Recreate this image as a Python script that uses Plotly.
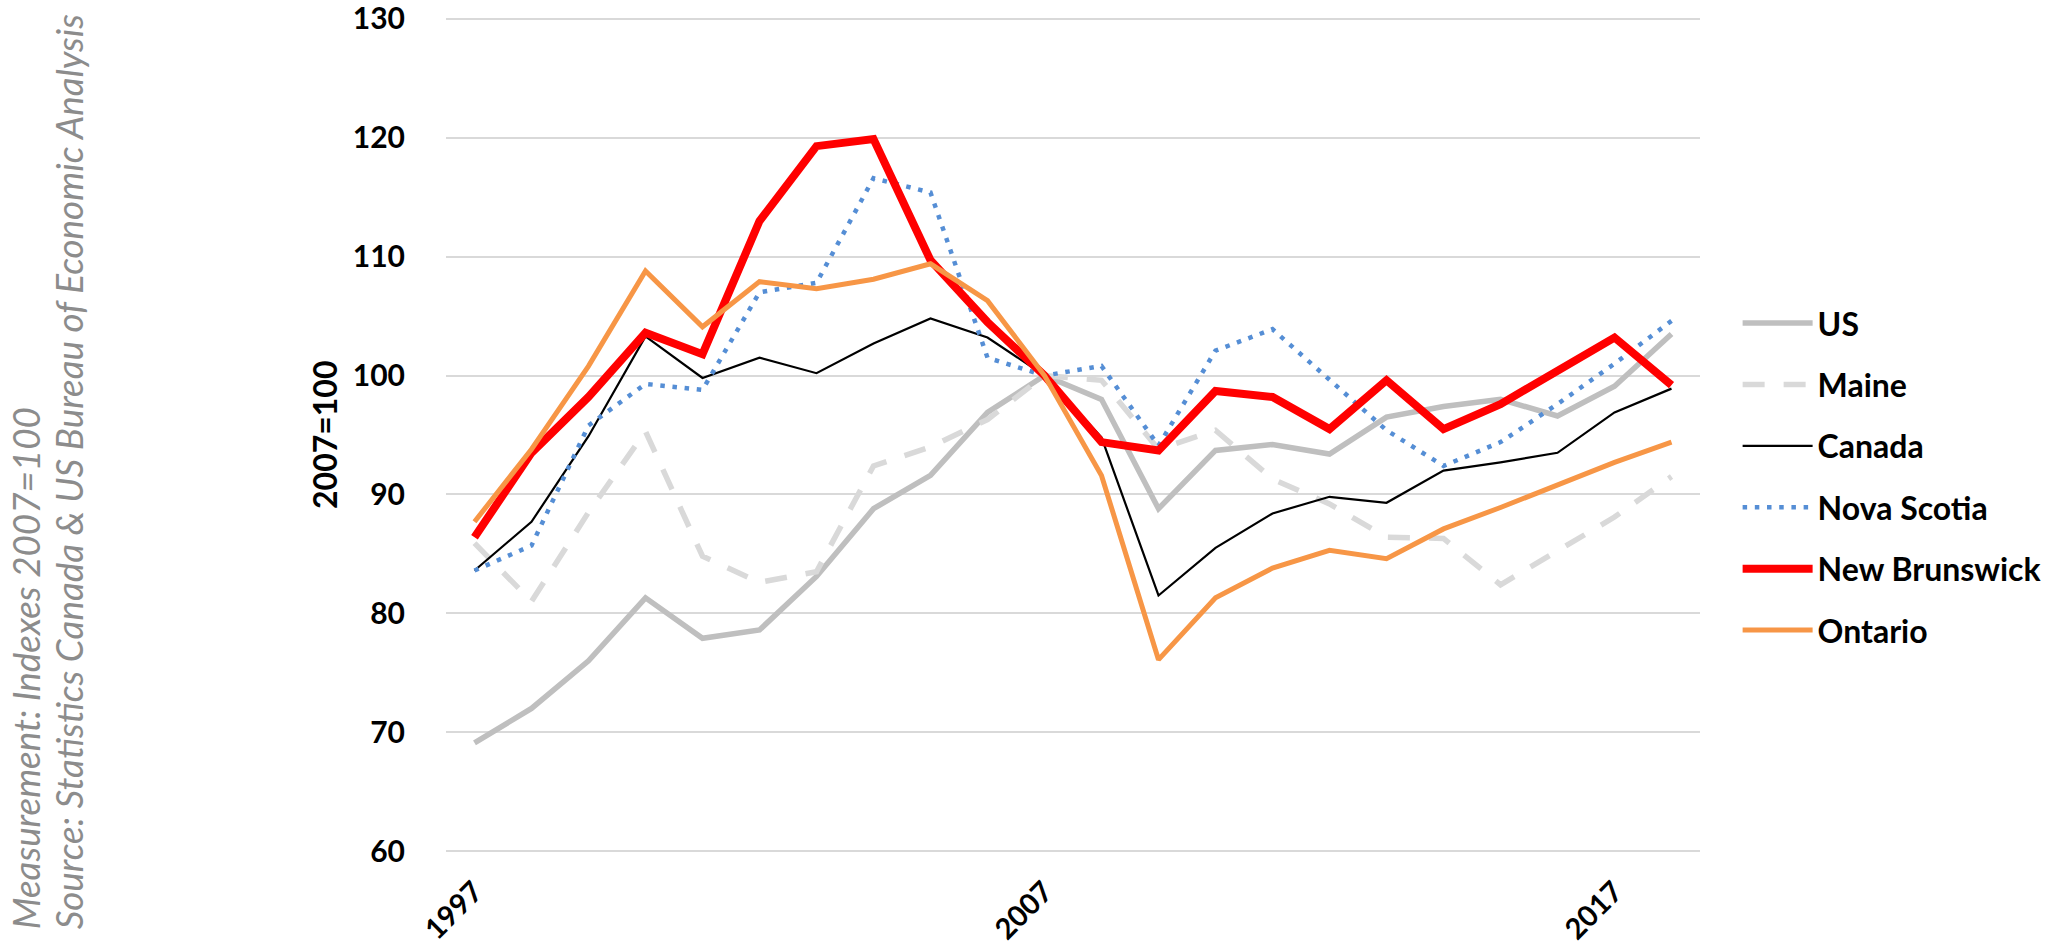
import plotly.graph_objects as go

years = list(range(1997, 2019))
us = [69.1, 72.0, 76.0, 81.3, 77.9, 78.6, 83.1, 88.8, 91.6, 96.9, 100.0,
      98.0, 88.8, 93.7, 94.2, 93.4, 96.5, 97.4, 98.0, 96.6, 99.1, 103.5]
maine = [85.9, 81.0, 88.5, 95.3, 84.8, 82.6, 83.5, 92.4, 94.0, 96.3, 100.0,
         99.6, 93.8, 95.4, 91.3, 89.2, 86.4, 86.3, 82.4, 85.2, 88.1, 91.5]
canada = [83.6, 87.7, 94.9, 103.3, 99.8, 101.5, 100.2, 102.7, 104.8, 103.2, 100.0,
          94.8, 81.5, 85.5, 88.4, 89.8, 89.3, 92.0, 92.7, 93.5, 96.9, 98.9]
nova_scotia = [83.6, 85.7, 95.8, 99.3, 98.8, 107.0, 107.8, 116.6, 115.4, 101.5, 100.0,
               100.8, 94.1, 102.1, 103.9, 99.7, 95.4, 92.4, 94.4, 97.6, 101.0, 104.6]
new_brunswick = [86.4, 93.5, 98.2, 103.6, 101.8, 113.0, 119.3, 119.9, 109.7, 104.5, 100.0,
                 94.4, 93.7, 98.7, 98.2, 95.5, 99.6, 95.5, 97.6, 100.4, 103.2, 99.2]
ontario = [87.7, 93.8, 100.8, 108.8, 104.1, 107.9, 107.3, 108.1, 109.4, 106.3, 100.0,
           91.6, 76.1, 81.3, 83.8, 85.3, 84.6, 87.1, 88.9, 90.8, 92.7, 94.4]

x_ticks = [1997, 2007, 2017]
y_ticks = [60, 70, 80, 90, 100, 110, 120, 130]

series = [
    ("US", us, dict(color="#BFBFBF", width=5.5)),
    ("Maine", maine, dict(color="#D9D9D9", width=5.5, dash="22px,19px")),
    ("Canada", canada, dict(color="#000000", width=2.2)),
    ("Nova Scotia", nova_scotia, dict(color="#558ED5", width=4.5, dash="4.5px,7.7px")),
    ("New Brunswick", new_brunswick, dict(color="#FF0000", width=8)),
    ("Ontario", ontario, dict(color="#F79646", width=5)),
]

fig = go.Figure()
for name, vals, line in series:
    fig.add_trace(go.Scatter(x=years, y=vals, mode="lines", name=name,
                             line=line, legendgroup=name))

calibri_like = "Lato, 'Open Sans', sans-serif"

fig.update_layout(
    width=2067, height=952,
    margin=dict(l=446, r=367, t=13, b=95, autoexpand=False),
    paper_bgcolor="white", plot_bgcolor="white",
    font=dict(family=calibri_like, color="black"),
    xaxis=dict(range=[1996.5, 2018.5], tickvals=x_ticks, ticktext=[str(v) for v in x_ticks],
               tickangle=-45, showgrid=False, zeroline=False, showline=False,
               automargin=False, ticklabeloverflow="allow",
               ticks="outside", ticklen=5, tickcolor="rgba(0,0,0,0)",
               tickfont=dict(family=calibri_like, size=29, color="black", weight="bold")),
    yaxis=dict(range=[59.5, 130.5], tickvals=y_ticks, showgrid=True, gridcolor="#D9D9D9",
               gridwidth=1.5, zeroline=False, showline=False, automargin=False,
               ticklabeloverflow="allow",
               ticks="outside", ticklen=34, tickcolor="rgba(0,0,0,0)",
               tickfont=dict(family=calibri_like, size=30, color="black", weight="bold")),
    showlegend=True,
    legend=dict(x=1.03, xanchor="left", y=0.665, yanchor="top",
                font=dict(family=calibri_like, size=32, color="black", weight="bold"),
                tracegroupgap=16.8, itemwidth=70, bgcolor="rgba(0,0,0,0)"),
    annotations=[
        dict(text="<b>2007=100</b>", xref="paper", yref="paper", x=-0.0973, y=0.5,
             xanchor="center", yanchor="middle", textangle=-90, showarrow=False,
             font=dict(family=calibri_like, size=32, color="black")),
        dict(text="<i>Measurement: Indexes 2007=100</i>", xref="paper", yref="paper",
             x=-0.335, y=-0.088, xanchor="center", yanchor="bottom", textangle=-90,
             showarrow=False, font=dict(family=calibri_like, size=36.8, color="#8C8C8C")),
        dict(text="<i>Source: Statistics Canada &amp; US Bureau of Economic Analysis</i>",
             xref="paper", yref="paper", x=-0.301, y=-0.088, xanchor="center",
             yanchor="bottom", textangle=-90, showarrow=False,
             font=dict(family=calibri_like, size=36.8, color="#8C8C8C")),
    ],
)

fig.write_html("out.html", config={"displayModeBar": False},
               post_script="document.body.style.margin='0';")
